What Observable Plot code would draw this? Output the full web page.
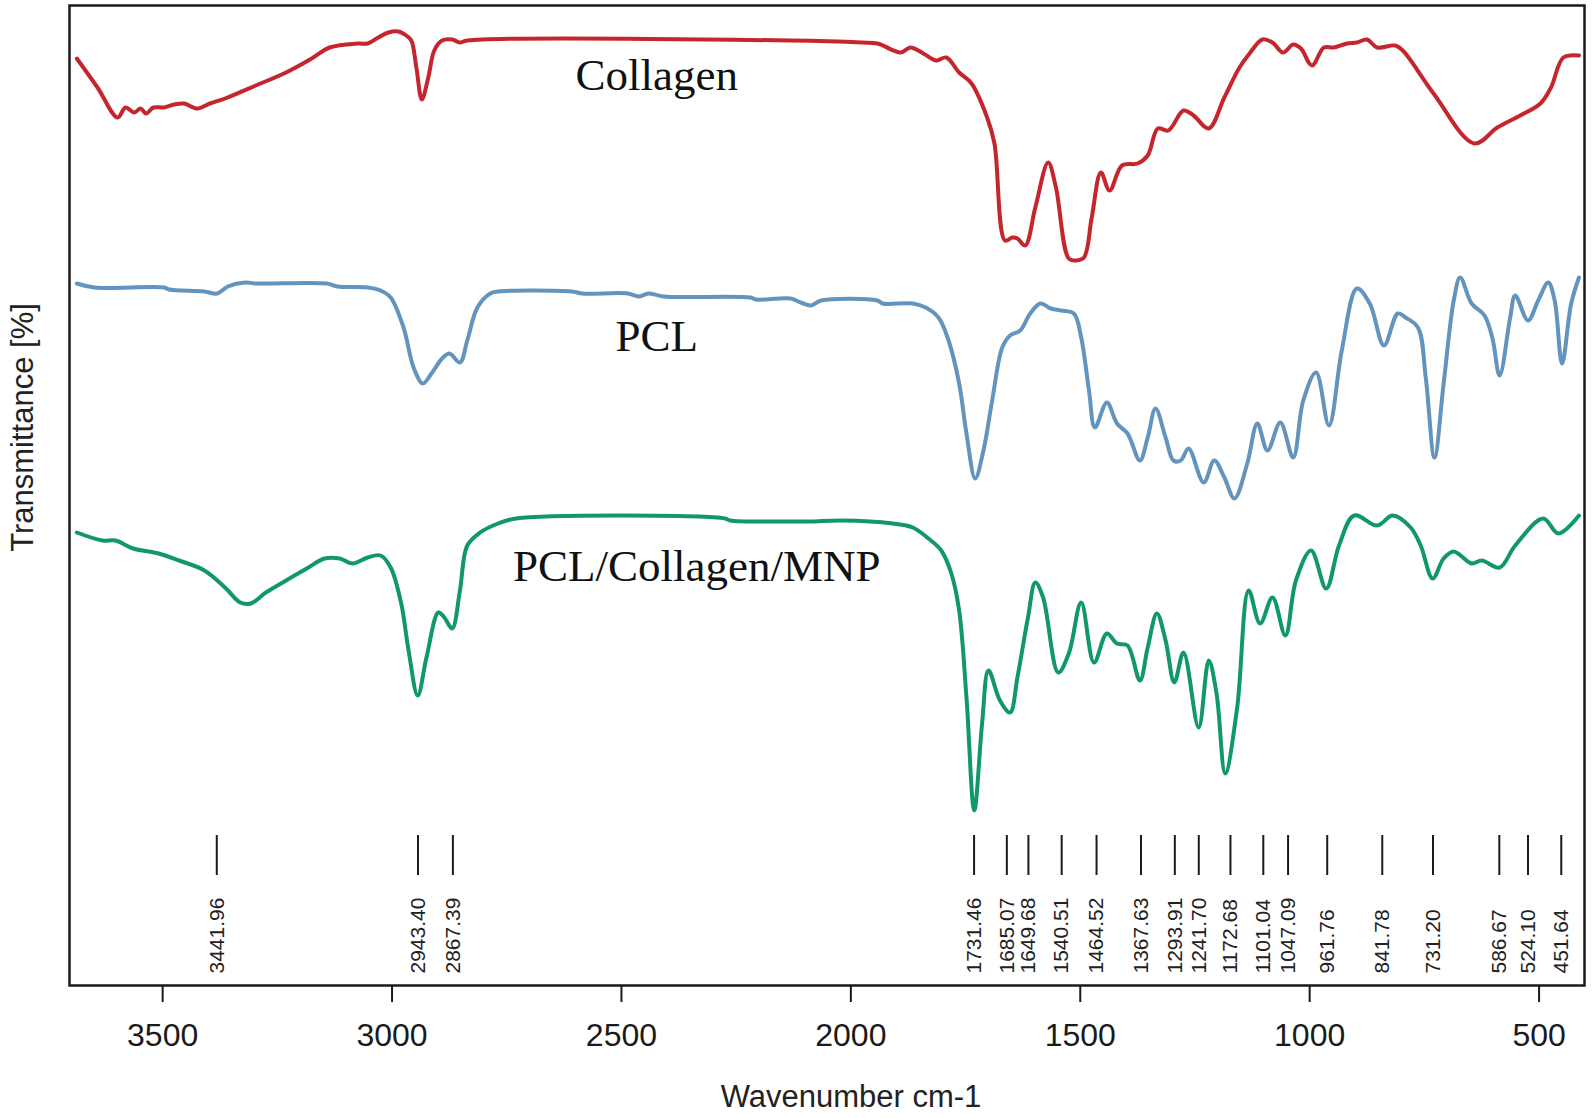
<!DOCTYPE html>
<html><head><meta charset="utf-8">
<script src="https://cdn.jsdelivr.net/npm/d3@7"></script>
<script src="https://cdn.jsdelivr.net/npm/@observablehq/plot@0.6"></script>
<style>
html,body{margin:0;padding:0;background:#fff;}
#chart svg{display:block;}
#chart g[aria-label="peak labels"] text{letter-spacing:1.5px;}
</style>
</head><body><div id="chart"></div>
<script>
// ---- data (wavenumber cm-1, relative transmittance) ----
const xTicks = [3500, 3000, 2500, 2000, 1500, 1000, 500];

const collagenWn = [3687,3642,3598,3581,3562,3548,3536,3520,3497,3475,3453,3425,3397,3364,3297,3231,3175,3136,3075,3053,3030,3008,2986,2969,2958,2947,2935,2921,2908,2891,2869,2852,2836,2131,1976,1942,1892,1870,1842,1815,1792,1764,1737,1703,1687,1664,1648,1637,1620,1598,1570,1553,1525,1509,1492,1475,1455,1436,1409,1375,1353,1331,1308,1275,1253,1220,1186,1153,1131,1103,1081,1058,1036,1019,995,969,947,919,897,875,853,814,797,730,641,591,541,497,474,447,413];
const collagenT  = [927,898,868,878,873,877,872,878,878,881,882,877,882,887,900,913,927,938,942,942,948,953,954,950,945,918,886,908,935,945,946,943,945,945,943,942,933,938,932,925,928,913,902,868,842,745,748,747,740,778,823,798,727,725,728,768,813,795,820,822,830,857,855,875,870,857,888,918,932,946,943,933,941,937,920,938,938,942,943,946,938,940,935,892,842,858,870,882,898,928,930];

const pclWn = [3687,3648,3497,3486,3409,3381,3358,3320,3297,3142,3119,3053,3025,3003,2975,2953,2933,2914,2891,2875,2852,2836,2814,2786,2769,2608,2586,2486,2463,2441,2408,2219,2207,2131,2109,2087,2065,1942,1931,1865,1837,1809,1787,1764,1748,1729,1711,1692,1670,1653,1631,1609,1587,1564,1542,1514,1498,1481,1468,1442,1420,1397,1370,1353,1336,1314,1297,1281,1264,1231,1208,1186,1164,1136,1114,1092,1064,1036,1014,986,958,930,897,869,838,808,791,764,747,728,708,686,672,647,619,602,586,563,552,524,502,480,466,450,430,413];
const pclT  = [702,698,698,696,694,692,699,703,702,702,699,698,695,688,658,618,602,612,627,632,623,645,678,692,694,694,692,692,689,692,689,688,686,687,683,680,685,685,682,682,678,668,645,602,552,507,535,585,638,650,655,672,682,677,675,672,648,595,558,583,562,552,525,548,577,548,525,525,537,503,525,508,487,522,562,535,563,528,585,613,560,635,697,682,640,672,668,658,608,528,602,685,708,682,670,648,610,668,690,665,685,703,685,622,682,708];

const compositeWn = [3687,3631,3603,3564,3509,3464,3409,3364,3331,3308,3275,3231,3186,3147,3114,3086,3053,3025,3003,2980,2964,2944,2925,2899,2886,2869,2852,2836,2808,2769,2730,2274,2263,2131,2087,2020,1909,1865,1831,1803,1781,1764,1748,1731,1714,1700,1675,1653,1637,1614,1598,1581,1548,1525,1498,1470,1442,1420,1397,1370,1353,1333,1314,1295,1275,1242,1220,1203,1184,1158,1133,1108,1081,1053,1030,997,964,936,903,853,819,780,758,732,708,686,647,625,586,552,491,458,413];
const compositeT  = [453,445,445,437,432,425,415,398,383,382,393,405,417,427,427,422,428,430,418,382,335,290,328,373,368,357,395,440,453,462,467,467,465,464,464,465,462,458,447,435,412,375,288,175,262,315,285,273,308,368,403,388,313,332,383,323,352,342,340,305,338,372,345,303,333,258,325,292,212,278,395,362,388,350,405,435,397,440,470,460,470,458,440,407,427,434,422,425,418,440,467,452,470];

const seriesNames = ["Collagen", "PCL", "PCL/Collagen/MNP"];
const seriesColors = ["#c5262d", "#6394be", "#10986b"];
// curve-name annotations (wavenumber, transmittance of label centre)
const labelWn = [2423, 2423, 2336];
const labelT  = [910, 649, 419];

// marked peaks: drawn position and printed value
const peakPos = [3382, 2943.4, 2867.39, 1731.46, 1660, 1613, 1540.51, 1464.52, 1367.63, 1293.91, 1241.70, 1172.68, 1101.04, 1047.09, 961.76, 841.78, 731.20, 586.67, 524.10, 451.64];
const peakLabels = ["3441.96","2943.40","2867.39","1731.46","1685.07","1649.68","1540.51","1464.52","1367.63","1293.91","1241.70","1172.68","1101.04","1047.09","961.76","841.78","731.20","586.67","524.10","451.64"];

// ---- build tables ----
const rows = (name, wn, t) => wn.map((w, i) => ({series: name, wn: w, t: t[i]}));
const spectra = [
  ...rows(seriesNames[0], collagenWn, collagenT),
  ...rows(seriesNames[1], pclWn, pclT),
  ...rows(seriesNames[2], compositeWn, compositeT)
];
const curveLabels = seriesNames.map((n, i) => ({name: n, wn: labelWn[i], t: labelT[i]}));
const peaks = peakPos.map((p, i) => ({pos: p, label: peakLabels[i]}));

const ink = "#1a1a1a";
const chart = Plot.plot({
  width: 1594,
  height: 1118,
  marginLeft: 69,
  marginRight: 10,
  marginTop: 5,
  marginBottom: 133,
  style: {fontFamily: "'Liberation Sans', Arial, sans-serif", background: "#fff", color: ink, overflow: "visible"},
  x: {domain: [3703, 401]},
  y: {domain: [0, 980], axis: null},
  color: {domain: seriesNames, range: seriesColors},
  marks: [
    Plot.axisX({ticks: xTicks, tickSize: 17, tickPadding: 21, fontSize: 32, strokeWidth: 2, label: null, tickFormat: d3.format("d")}),
    Plot.line(spectra, {x: "wn", y: "t", z: "series", stroke: "series", strokeWidth: 4, curve: "catmull-rom"}),
    Plot.text(curveLabels, {x: "wn", y: "t", text: "name", fontFamily: "'Liberation Serif', 'Times New Roman', serif", fontSize: 45, fill: "#111"}),
    Plot.ruleX(peaks, {x: "pos", y1: 110, y2: 150, stroke: ink, strokeWidth: 2}),
    Plot.text(peaks, {x: "pos", y: 12, text: "label", rotate: -90, textAnchor: "start", fontSize: 21, fill: "#222", ariaLabel: "peak labels"}),
    Plot.text(["Wavenumber cm-1"], {text: d => d, frameAnchor: "bottom", textAnchor: "middle", lineAnchor: "middle", dx: 24, dy: 112, fontSize: 31, fill: "#222"}),
    Plot.text(["Transmittance [%]"], {text: d => d, frameAnchor: "left", textAnchor: "middle", lineAnchor: "middle", dx: -46, dy: -68, rotate: -90, fontSize: 31, fill: "#222"}),
    Plot.frame({stroke: ink, strokeWidth: 2.5})
  ]
});
document.getElementById("chart").append(chart);
</script>
</body></html>
